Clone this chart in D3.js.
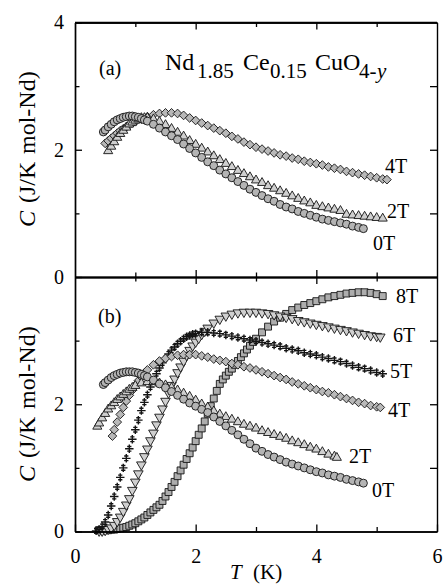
<!DOCTYPE html>
<html>
<head>
<meta charset="utf-8">
<script src="https://cdn.jsdelivr.net/npm/d3@7"></script>
<style>
  body { margin: 0; background: #fff; }
  svg, svg text { font-family: "Liberation Serif", "DejaVu Serif", "Times New Roman", serif; }
  text { fill: #000; }
</style>
</head>
<body>
<svg id="chart" width="443" height="588" font-family="Liberation Serif, DejaVu Serif, serif"></svg>
<script>
// Specific heat C (J/K mol-Nd) versus temperature T (K), pairs of [T, C]

// ---- panel (a) ----
const a0T = [[0.47,2.28],[0.5,2.31],[0.55,2.36],[0.6,2.40],[0.65,2.44],[0.7,2.47],[0.75,2.49],[0.8,2.51],[0.85,2.52],[0.9,2.53],[0.95,2.53],[1.0,2.52],[1.05,2.51],[1.1,2.49],[1.15,2.47],[1.2,2.45],[1.3,2.40],[1.4,2.34],[1.5,2.28],[1.6,2.22],[1.7,2.16],[1.8,2.09],[1.9,2.02],[2.0,1.95],[2.1,1.88],[2.2,1.81],[2.3,1.75],[2.4,1.68],[2.5,1.62],[2.6,1.56],[2.7,1.50],[2.8,1.44],[2.9,1.38],[3.0,1.33],[3.1,1.28],[3.2,1.23],[3.3,1.19],[3.4,1.14],[3.5,1.10],[3.6,1.07],[3.7,1.03],[3.8,1.00],[3.9,0.97],[4.0,0.94],[4.1,0.91],[4.2,0.89],[4.3,0.87],[4.4,0.85],[4.5,0.83],[4.6,0.80],[4.7,0.78],[4.78,0.76]];
const a2T = [[0.55,1.98],[0.6,2.05],[0.65,2.12],[0.7,2.19],[0.75,2.25],[0.8,2.30],[0.85,2.35],[0.9,2.40],[0.95,2.43],[1.0,2.46],[1.05,2.48],[1.1,2.50],[1.15,2.50],[1.2,2.50],[1.3,2.48],[1.4,2.44],[1.5,2.39],[1.6,2.33],[1.7,2.27],[1.8,2.21],[1.9,2.14],[2.0,2.08],[2.1,2.02],[2.2,1.96],[2.3,1.90],[2.4,1.84],[2.5,1.78],[2.6,1.73],[2.7,1.67],[2.8,1.62],[2.9,1.57],[3.0,1.52],[3.1,1.48],[3.2,1.43],[3.3,1.39],[3.4,1.35],[3.5,1.31],[3.6,1.27],[3.7,1.23],[3.8,1.19],[3.9,1.16],[4.0,1.12],[4.1,1.10],[4.2,1.08],[4.3,1.06],[4.4,1.04],[4.5,0.98],[4.6,0.97],[4.7,0.96],[4.8,0.95],[4.9,0.94],[5.0,0.93],[5.1,0.92]];
const a4T = [[0.5,2.10],[0.55,2.14],[0.6,2.18],[0.65,2.22],[0.7,2.26],[0.75,2.30],[0.8,2.33],[0.85,2.36],[0.9,2.39],[0.95,2.42],[1.0,2.44],[1.1,2.48],[1.2,2.52],[1.3,2.55],[1.4,2.57],[1.5,2.58],[1.6,2.58],[1.7,2.57],[1.8,2.54],[1.9,2.50],[2.0,2.46],[2.1,2.42],[2.2,2.38],[2.3,2.34],[2.4,2.30],[2.5,2.26],[2.6,2.21],[2.7,2.17],[2.8,2.12],[2.9,2.08],[3.0,2.04],[3.1,2.01],[3.2,1.98],[3.3,1.95],[3.4,1.92],[3.5,1.90],[3.6,1.87],[3.7,1.85],[3.8,1.82],[3.9,1.80],[4.0,1.78],[4.1,1.76],[4.2,1.73],[4.3,1.71],[4.4,1.69],[4.5,1.66],[4.6,1.64],[4.7,1.62],[4.8,1.60],[4.9,1.58],[5.0,1.56],[5.1,1.54],[5.17,1.53]];

// ---- panel (b) ----
const b0T = [[0.47,2.31],[0.5,2.34],[0.55,2.38],[0.6,2.42],[0.65,2.45],[0.7,2.47],[0.75,2.49],[0.8,2.50],[0.85,2.51],[0.9,2.51],[0.95,2.51],[1.0,2.50],[1.05,2.49],[1.1,2.47],[1.15,2.45],[1.2,2.43],[1.3,2.38],[1.4,2.32],[1.5,2.26],[1.6,2.20],[1.7,2.14],[1.8,2.08],[1.9,2.02],[2.0,1.97],[2.1,1.92],[2.2,1.87],[2.3,1.80],[2.4,1.73],[2.5,1.66],[2.6,1.59],[2.7,1.52],[2.8,1.45],[2.9,1.38],[3.0,1.31],[3.1,1.26],[3.2,1.21],[3.3,1.17],[3.4,1.13],[3.5,1.09],[3.6,1.06],[3.7,1.03],[3.8,1.00],[3.9,0.97],[4.0,0.94],[4.1,0.92],[4.2,0.89],[4.3,0.87],[4.4,0.85],[4.5,0.82],[4.6,0.80],[4.7,0.78],[4.78,0.76]];
const b2T = [[0.37,1.65],[0.4,1.70],[0.45,1.78],[0.5,1.85],[0.55,1.92],[0.6,1.97],[0.65,2.02],[0.7,2.07],[0.75,2.11],[0.8,2.15],[0.85,2.19],[0.9,2.23],[0.95,2.26],[1.0,2.29],[1.1,2.33],[1.2,2.35],[1.3,2.35],[1.4,2.33],[1.5,2.30],[1.6,2.26],[1.7,2.22],[1.8,2.17],[1.9,2.12],[2.0,2.06],[2.1,2.00],[2.2,1.95],[2.3,1.89],[2.4,1.84],[2.5,1.80],[2.6,1.76],[2.7,1.72],[2.8,1.68],[2.9,1.65],[3.0,1.62],[3.1,1.58],[3.2,1.55],[3.3,1.52],[3.4,1.49],[3.5,1.46],[3.6,1.42],[3.7,1.39],[3.8,1.36],[3.9,1.32],[4.0,1.29],[4.1,1.25],[4.2,1.21],[4.3,1.18],[4.34,1.16]];
const b4T = [[0.62,1.50],[0.65,1.60],[0.7,1.72],[0.75,1.84],[0.8,1.95],[0.85,2.05],[0.9,2.14],[0.95,2.22],[1.0,2.30],[1.05,2.37],[1.1,2.43],[1.15,2.49],[1.2,2.54],[1.3,2.62],[1.4,2.68],[1.5,2.72],[1.6,2.75],[1.7,2.77],[1.8,2.78],[1.9,2.78],[2.0,2.78],[2.1,2.76],[2.2,2.74],[2.3,2.71],[2.4,2.69],[2.5,2.67],[2.6,2.64],[2.7,2.62],[2.8,2.59],[2.9,2.57],[3.0,2.54],[3.1,2.51],[3.2,2.48],[3.3,2.45],[3.4,2.42],[3.5,2.39],[3.6,2.35],[3.7,2.32],[3.8,2.29],[3.9,2.26],[4.0,2.23],[4.1,2.20],[4.2,2.18],[4.3,2.15],[4.4,2.12],[4.5,2.09],[4.6,2.06],[4.7,2.03],[4.8,2.01],[4.9,1.98],[5.0,1.96],[5.06,1.95]];
const b5T = [[0.35,0.01],[0.4,0.03],[0.45,0.08],[0.5,0.15],[0.55,0.26],[0.6,0.40],[0.65,0.55],[0.7,0.70],[0.75,0.85],[0.8,1.00],[0.85,1.15],[0.9,1.30],[0.95,1.45],[1.0,1.60],[1.05,1.75],[1.1,1.90],[1.15,2.03],[1.2,2.15],[1.25,2.27],[1.3,2.38],[1.35,2.48],[1.4,2.57],[1.45,2.65],[1.5,2.72],[1.55,2.79],[1.6,2.85],[1.65,2.90],[1.7,2.95],[1.75,2.99],[1.8,3.03],[1.85,3.06],[1.9,3.08],[1.95,3.10],[2.0,3.11],[2.1,3.13],[2.2,3.13],[2.3,3.12],[2.4,3.11],[2.5,3.09],[2.6,3.07],[2.7,3.05],[2.8,3.03],[2.9,3.01],[3.0,2.99],[3.1,2.97],[3.2,2.95],[3.3,2.93],[3.4,2.91],[3.5,2.88],[3.6,2.86],[3.7,2.84],[3.8,2.81],[3.9,2.79],[4.0,2.77],[4.1,2.74],[4.2,2.72],[4.3,2.69],[4.4,2.67],[4.5,2.64],[4.6,2.61],[4.7,2.58],[4.8,2.56],[4.9,2.53],[5.0,2.50],[5.1,2.48]];
const b6T = [[0.4,0.01],[0.45,0.01],[0.5,0.02],[0.55,0.04],[0.6,0.06],[0.65,0.10],[0.7,0.16],[0.75,0.23],[0.8,0.32],[0.85,0.42],[0.9,0.52],[0.95,0.65],[1.0,0.78],[1.05,0.91],[1.1,1.05],[1.15,1.18],[1.2,1.30],[1.25,1.43],[1.3,1.55],[1.35,1.68],[1.4,1.80],[1.45,1.93],[1.5,2.05],[1.55,2.18],[1.6,2.30],[1.65,2.40],[1.7,2.50],[1.75,2.59],[1.8,2.68],[1.85,2.77],[1.9,2.85],[1.95,2.92],[2.0,2.98],[2.05,3.04],[2.1,3.10],[2.15,3.15],[2.2,3.20],[2.3,3.28],[2.4,3.34],[2.5,3.39],[2.6,3.42],[2.7,3.44],[2.8,3.45],[2.9,3.45],[3.0,3.45],[3.1,3.44],[3.2,3.43],[3.3,3.41],[3.4,3.39],[3.5,3.37],[3.6,3.35],[3.7,3.32],[3.8,3.30],[3.9,3.28],[4.0,3.26],[4.1,3.24],[4.2,3.22],[4.3,3.20],[4.4,3.18],[4.5,3.16],[4.6,3.14],[4.7,3.12],[4.8,3.10],[4.9,3.08],[5.0,3.07],[5.06,3.06]];
const b8T = [[0.4,0.02],[0.45,0.02],[0.5,0.02],[0.55,0.02],[0.6,0.03],[0.65,0.03],[0.7,0.04],[0.75,0.05],[0.8,0.06],[0.85,0.07],[0.9,0.09],[0.95,0.11],[1.0,0.13],[1.05,0.16],[1.1,0.19],[1.15,0.22],[1.2,0.26],[1.25,0.30],[1.3,0.34],[1.35,0.38],[1.4,0.42],[1.45,0.48],[1.5,0.55],[1.55,0.62],[1.6,0.70],[1.65,0.78],[1.7,0.87],[1.75,0.96],[1.8,1.05],[1.85,1.14],[1.9,1.23],[1.95,1.32],[2.0,1.42],[2.05,1.52],[2.1,1.62],[2.15,1.73],[2.2,1.85],[2.25,1.97],[2.3,2.09],[2.35,2.21],[2.4,2.32],[2.45,2.39],[2.5,2.45],[2.55,2.51],[2.6,2.56],[2.65,2.62],[2.7,2.68],[2.75,2.74],[2.8,2.80],[2.85,2.86],[2.9,2.92],[2.95,2.98],[3.0,3.03],[3.1,3.13],[3.2,3.22],[3.3,3.30],[3.4,3.36],[3.5,3.42],[3.6,3.48],[3.7,3.52],[3.8,3.56],[3.9,3.59],[4.0,3.62],[4.1,3.65],[4.2,3.68],[4.3,3.70],[4.4,3.72],[4.5,3.74],[4.6,3.75],[4.7,3.76],[4.8,3.76],[4.9,3.75],[5.0,3.73],[5.1,3.70]];

// axis ticks
const xMajor = [0, 2, 4, 6];
const xMinor = [1, 3, 5];
const yMajorA = [0, 2, 4];
const yMajorB = [0, 2];
const yMinor = [1, 3];

// field labels written after the last point of each curve
const labelsA = ["0T", "2T", "4T"];
const labelsB = ["0T", "2T", "4T", "5T", "6T", "8T"];

const svg = d3.select("#chart");
const left = 75, right = 437;
const topA = 22.5, mid = 277, bottom = 531.5;
const SERIF = "Liberation Serif, DejaVu Serif, serif";

const x = d3.scaleLinear().domain([0, 6]).range([left, right]);
const yA = d3.scaleLinear().domain([0, 4]).range([mid, topA]);
const yB = d3.scaleLinear().domain([0, 4]).range([bottom, mid]);

const MAJ = 7, MIN = 4.5;

// marker shapes
const diamond = {
  draw(ctx, size) {
    const r = Math.sqrt(size) / 2 * Math.SQRT2;
    ctx.moveTo(0, -r); ctx.lineTo(r, 0); ctx.lineTo(0, r); ctx.lineTo(-r, 0); ctx.closePath();
  }
};
function triangle(dir) {
  return {
    draw(ctx, size) {
      const s = Math.sqrt(size * 4 / Math.sqrt(3));
      const h = s * Math.sqrt(3) / 2;
      ctx.moveTo(-s / 2, dir * h / 3); ctx.lineTo(s / 2, dir * h / 3); ctx.lineTo(0, -dir * 2 * h / 3); ctx.closePath();
    }
  };
}
const plusBar = {
  draw(ctx, size) {
    const r = Math.sqrt(size) / 2;
    ctx.moveTo(0, -r); ctx.lineTo(0, r);
    ctx.moveTo(-r, 0); ctx.lineTo(r, 0);
    ctx.moveTo(-r * 0.5, -r * 0.55); ctx.lineTo(r * 0.5, -r * 0.55);
    ctx.moveTo(-r * 0.5, r * 0.55); ctx.lineTo(r * 0.5, r * 0.55);
  }
};

const EDGE = "#141414";
const styles = {
  "0T": { type: d3.symbolCircle, size: 50, fill: "#b4b4b4" },
  "2T": { type: triangle(1), size: 36, fill: "#cfcfcf" },
  "4T": { type: diamond, size: 38, fill: "#b8b8b8" },
  "5T": { type: plusBar, size: 72, fill: "none", width: 1.4 },
  "6T": { type: triangle(-1), size: 40, fill: "#cfcfcf" },
  "8T": { type: d3.symbolSquare, size: 48, fill: "#adadad" }
};

function drawSeries(g, data, y, key) {
  const st = styles[key];
  g.append("g").selectAll("path").data(data).join("path")
    .attr("transform", d => `translate(${x(d[0])},${y(d[1])})`)
    .attr("d", d3.symbol().type(st.type).size(st.size))
    .attr("fill", st.fill)
    .attr("stroke", EDGE)
    .attr("stroke-width", st.width || 0.9);
}

// series in drawing order
const seriesA = [["4T", a4T], ["2T", a2T], ["0T", a0T]];
const seriesB = [["8T", b8T], ["6T", b6T], ["5T", b5T], ["4T", b4T], ["2T", b2T], ["0T", b0T]];

const marks = svg.append("g");
seriesA.forEach(([k, d]) => drawSeries(marks, d, yA, k));
seriesB.forEach(([k, d]) => drawSeries(marks, d, yB, k));

// axes
function styleAxis(g) {
  g.attr("font-family", SERIF);
  g.selectAll("path.domain").attr("stroke", "#000").attr("stroke-width", 1.4);
  g.selectAll(".tick line").attr("stroke", "#000").attr("stroke-width", 1.3);
  g.selectAll(".tick text").attr("font-size", 20).attr("font-family", SERIF);
}
const noLabel = () => "";

// bottom axis with labels
svg.append("g").attr("transform", `translate(0,${bottom})`)
  .call(d3.axisBottom(x).tickValues(xMajor).tickSizeInner(-MAJ).tickSizeOuter(0).tickPadding(17).tickFormat(d3.format("d")))
  .call(styleAxis);
svg.append("g").attr("transform", `translate(0,${bottom})`)
  .call(d3.axisBottom(x).tickValues(xMinor).tickSizeInner(-MIN).tickSizeOuter(0).tickFormat(noLabel))
  .call(styleAxis);

// top of panel (a) and the shared divider (ticks into both panels)
[[topA, d3.axisTop], [mid, d3.axisBottom], [mid, d3.axisTop]].forEach(([yy, gen]) => {
  svg.append("g").attr("transform", `translate(0,${yy})`)
    .call(gen(x).tickValues([2, 4]).tickSizeInner(-MAJ).tickSizeOuter(0).tickFormat(noLabel))
    .call(styleAxis);
  svg.append("g").attr("transform", `translate(0,${yy})`)
    .call(gen(x).tickValues(xMinor).tickSizeInner(-MIN).tickSizeOuter(0).tickFormat(noLabel))
    .call(styleAxis);
});

// left and right axes of both panels
[[yA, yMajorA], [yB, yMajorB]].forEach(([y, majors]) => {
  svg.append("g").attr("transform", `translate(${left},0)`)
    .call(d3.axisLeft(y).tickValues(majors).tickSizeInner(-MAJ).tickSizeOuter(0).tickPadding(11).tickFormat(d3.format("d")))
    .call(styleAxis);
  svg.append("g").attr("transform", `translate(${left},0)`)
    .call(d3.axisLeft(y).tickValues(yMinor).tickSizeInner(-MIN).tickSizeOuter(0).tickFormat(noLabel))
    .call(styleAxis);
  svg.append("g").attr("transform", `translate(${right},0)`)
    .call(d3.axisRight(y).tickValues([1, 2, 3]).tickSizeInner(-MAJ).tickSizeOuter(0).tickFormat(noLabel))
    .call(styleAxis);
});
// top border of panel (a)
svg.append("line").attr("x1", left).attr("x2", right).attr("y1", topA).attr("y2", topA)
  .attr("stroke", "#000").attr("stroke-width", 1.4);

// axis titles: y title built from pieces placed along the rotated baseline
function yTitle(cy) {
  const g = svg.append("g").attr("transform", `translate(35,${cy}) rotate(-90)`)
    .attr("font-family", SERIF).attr("font-size", 24);
  g.append("text").attr("x", -82).attr("font-style", "italic").text("C");
  g.append("text").attr("x", -58).text("(J/K");
  g.append("text").attr("x", -9).text("mol-Nd)");
}
yTitle(145);
yTitle(400);

const xt = svg.append("g").attr("font-family", SERIF).attr("font-size", 21);
xt.append("text").attr("x", 230).attr("y", 579).attr("font-style", "italic").text("T");
xt.append("text").attr("x", 253).attr("y", 579).text("(K)");

// panel tags
svg.append("text").attr("x", 99).attr("y", 75).attr("font-size", 20).attr("font-family", SERIF).text("(a)");
svg.append("text").attr("x", 98).attr("y", 323).attr("font-size", 20).attr("font-family", SERIF).text("(b)");

// compound formula, each piece placed at its own x
const formula = [
  { s: "Nd", x: 165, sub: false }, { s: "1.85", x: 197, sub: true },
  { s: "Ce", x: 243, sub: false }, { s: "0.15", x: 270, sub: true },
  { s: "CuO", x: 315, sub: false }, { s: "4-", x: 359, sub: true }, { s: "y", x: 377, sub: true, it: true }
];
const fg = svg.append("g").attr("font-family", SERIF);
formula.forEach(p => {
  fg.append("text").attr("x", p.x).attr("y", p.sub ? 78 : 70)
    .attr("font-size", p.sub ? 21 : 24)
    .attr("font-style", p.it ? "italic" : null)
    .text(p.s);
});

// field labels at curve ends
const labelPosA = { "0T": [373, 250], "2T": [387, 218], "4T": [385, 173] };
const labelPosB = { "0T": [372, 497], "2T": [349, 463], "4T": [388, 417], "5T": [390, 378], "6T": [393, 342], "8T": [396, 303] };
labelsA.forEach(k => svg.append("text").attr("x", labelPosA[k][0]).attr("y", labelPosA[k][1])
  .attr("font-size", 20).attr("font-family", SERIF).text(k));
labelsB.forEach(k => svg.append("text").attr("x", labelPosB[k][0]).attr("y", labelPosB[k][1])
  .attr("font-size", 20).attr("font-family", SERIF).text(k));
</script>
</body>
</html>
